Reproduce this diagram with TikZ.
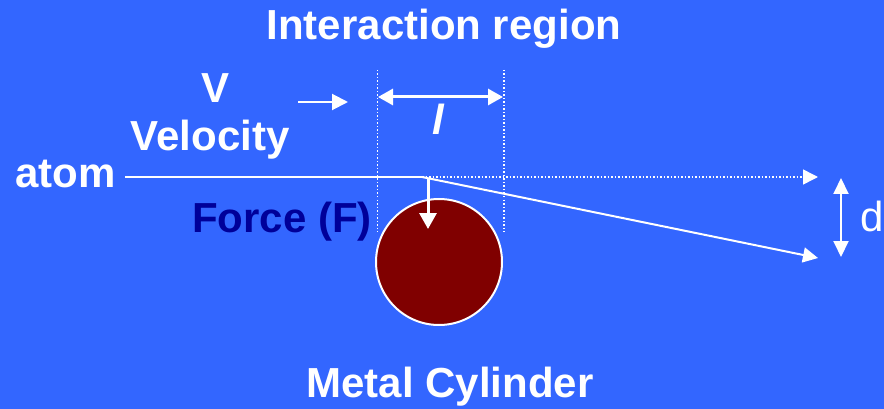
\documentclass[tikz,border=0pt]{standalone}
\usepackage{fontspec}
\setmainfont{Liberation Sans}
\usetikzlibrary{arrows.meta}
\definecolor{bg}{HTML}{3366FF}
\definecolor{forcecol}{HTML}{000099}
\definecolor{metal}{HTML}{800000}
\begin{document}
\begin{tikzpicture}[x=1pt,y=-1pt,
  lbl/.style={text=white,font=\fontsize{42}{46}\selectfont\bfseries,inner sep=0,anchor=base},
  arr/.style={white,line width=2pt,-{Triangle[length=16pt,width=16pt]}},
  dots/.style={white,line width=1.5pt,dash pattern=on 1.5pt off 2pt}]
\fill[bg] (0,0) rectangle (884,409);
\useasboundingbox (0,0) rectangle (884,409);
% labels
\node[lbl] (title) at (444,40) {Interaction region};
\node[lbl] (V) at (216,103) {V};
\node[lbl] (vel) at (210,151) {Velocity};
\node[lbl] (atom) at (65.5,188) {atom};
\node[lbl,text=forcecol] (force) at (282,232) {Force (F)};
\node[lbl,font=\fontsize{42}{46}\selectfont\bfseries\itshape] (ell) at (438,135) {l};
\node[lbl,font=\fontsize{42}{46}\selectfont,anchor=base east] (d) at (884,231) {d};
\node[lbl] (metal) at (450,397) {Metal Cylinder};
% cylinder
\node[circle,draw=white,line width=2pt,fill=metal,minimum size=126pt,inner sep=0] (cyl) at (439,262) {};
% interaction region boundaries
\coordinate (l1) at (377.5,70); \coordinate (l2) at (377.5,232);
\coordinate (r1) at (504,70); \coordinate (r2) at (504,232);
\draw[dots] (l1) -- (l2);
\draw[dots] (r1) -- (r2);
% width arrow
\coordinate (wa) at (378,97); \coordinate (wb) at (503,97);
\draw[white,line width=3pt,{Triangle[length=15pt,width=16pt]}-{Triangle[length=15pt,width=16pt]}] (wa) -- (wb);
% velocity arrow
\coordinate (va) at (298,102); \coordinate (vb) at (348,102);
\draw[arr] (va) -- (vb);
% atom path
\coordinate (a0) at (125,177); \coordinate (hit) at (422,177);
\coordinate (strt) at (818,177); \coordinate (defl) at (818,258);
\draw[white,line width=2pt] (a0) -- (hit);
\draw[dots,-{Triangle[length=15pt,width=15pt]}] (hit) -- (strt);
\draw[white,line width=2pt,-{Triangle[length=15pt,width=15pt]}] (hit) -- (defl);
% force arrow
\coordinate (fa) at (428,178); \coordinate (fb) at (428,229);
\draw[white,line width=3pt,-{Triangle[length=16pt,width=17pt]}] (fa) -- (fb);
% d arrow
\coordinate (da) at (841,178); \coordinate (db) at (841,257);
\draw[white,line width=2pt,{Triangle[length=16pt,width=15pt]}-{Triangle[length=16pt,width=15pt]}] (da) -- (db);
\end{tikzpicture}
\end{document}
